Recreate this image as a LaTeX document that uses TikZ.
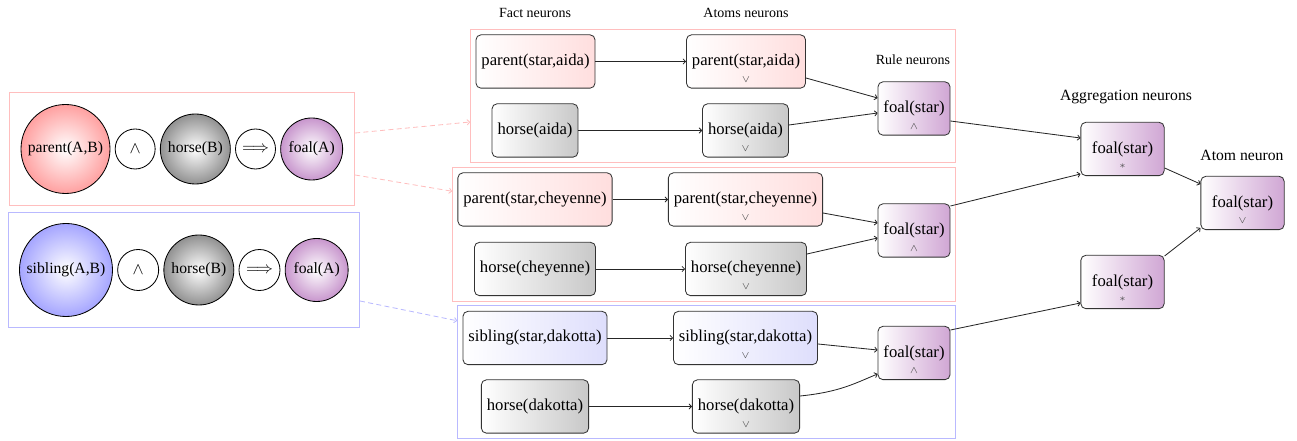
\documentclass[tikz,border=0pt]{standalone}
\usepackage{fontspec}
\setmainfont{Liberation Serif}
\usepackage{xcolor}
\usetikzlibrary{arrows.meta, positioning, calc, fit}
\definecolor{NeuPink}{RGB}{255, 222, 222}
\definecolor{NeuGray}{RGB}{200, 200, 200}
\definecolor{NeuBlue}{RGB}{222, 222, 252}
\definecolor{NeuPurple}{RGB}{208, 166, 212}
\definecolor{NeuPinkBall}{RGB}{255, 160, 160}
\definecolor{NeuGrayBall}{RGB}{145, 145, 145}
\definecolor{NeuBlueBall}{RGB}{165, 165, 255}
\definecolor{NeuPurpleBall}{RGB}{200, 150, 205}
\definecolor{NeuPinkLine}{RGB}{255, 190, 190}
\definecolor{NeuBlueLine}{RGB}{185, 185, 255}

\begin{document}
\begin{tikzpicture}[
    x=0.6pt, y=-0.6pt,
    neuron/.style={rounded corners=3pt, draw=black!80, line width=0.5pt,
      minimum height=32pt, inner xsep=3.3pt,
      font=\fontsize{10}{12}\selectfont, left color=white, right color=#1},
    gate/.style={label={[font=\fontsize{6.2}{7}\selectfont, text=black!70, inner sep=0pt,
      label distance=-7.3pt]below:#1}},
    ball/.style={circle, draw=black, line width=0.5pt, inner sep=0pt,
      font=\fontsize{9.4}{11}\selectfont, inner color=white, outer color=#1},
    group/.style={draw=#1, line width=0.5pt, inner sep=3pt},
    link/.style={-{To[length=2pt, width=3.5pt]}, line width=0.5pt, black!85},
    hint/.style={-{To[length=2pt, width=3.5pt]}, line width=0.5pt,
      dash pattern=on 3pt off 2pt, draw=#1},
    title/.style={font=\fontsize{8.4}{10}\selectfont}
  ]
  \useasboundingbox (0,0) rectangle (1297,441);

  % rules as circles
  \node[ball=NeuPinkBall, minimum size=53.4pt] (pAB) at (65.5,149) {parent(A,B)};
  \node[ball=white, minimum size=24pt, font=\normalsize, right=2.6pt of pAB] (and1) {$\wedge$};
  \node[ball=NeuGrayBall, minimum size=42pt, right=2.6pt of and1] (hB1) {horse(B)};
  \node[ball=white, minimum size=24pt, font=\normalsize, right=2.6pt of hB1] (imp1) {$\Longrightarrow$};
  \node[ball=NeuPurpleBall, minimum size=37.2pt, right=2.6pt of imp1] (fA1) {foal(A)};

  \node[ball=NeuBlueBall, minimum size=55.8pt] (sAB) at (66,270) {sibling(A,B)};
  \node[ball=white, minimum size=24.6pt, font=\normalsize, right=2.6pt of sAB] (and2) {$\wedge$};
  \node[ball=NeuGrayBall, minimum size=42pt, right=2.6pt of and2] (hB2) {horse(B)};
  \node[ball=white, minimum size=24.6pt, font=\normalsize, right=2.6pt of hB2] (imp2) {$\Longrightarrow$};
  \node[ball=NeuPurpleBall, minimum size=37.8pt, right=2.6pt of imp2] (fA2) {foal(A)};

  \node[group=NeuPinkLine, inner sep=7pt, fit=(pAB)(fA1)] (rulePar) {};
  \node[group=NeuBlueLine, inner sep=6.6pt, fit=(sAB)(fA2)] (ruleSib) {};

  % network
  \node[title] at (535,13) {Fact neurons};
  \node[title] at (746,13) {Atoms neurons};
  \node[title] at (913,60) {Rule neurons};
  \node[font=\fontsize{9.4}{11}\selectfont] at (1126,97) {Aggregation neurons};
  \node[font=\fontsize{9.4}{11}\selectfont] at (1242,155) {Atom neuron};

  \node[neuron=NeuPink] (fa1) at (535.5,61.5) {parent(star,aida)};
  \node[neuron=NeuGray] (fh1) at (535,130.5) {horse(aida)};
  \node[neuron=NeuPink, gate=$\vee$] (aa1) at (746,61.5) {parent(star,aida)};
  \node[neuron=NeuGray, gate=$\vee$] (ah1) at (745.5,130.5) {horse(aida)};
  \node[neuron=NeuPurple, gate=$\wedge$] (r1) at (914,108.5) {foal(star)};

  \node[neuron=NeuPink] (fa2) at (535,199.5) {parent(star,cheyenne)};
  \node[neuron=NeuGray] (fh2) at (535,269) {horse(cheyenne)};
  \node[neuron=NeuPink, gate=$\vee$] (aa2) at (745.5,199.5) {parent(star,cheyenne)};
  \node[neuron=NeuGray, gate=$\vee$] (ah2) at (746,269) {horse(cheyenne)};
  \node[neuron=NeuPurple, gate=$\wedge$] (r2) at (914,230.5) {foal(star)};

  \node[neuron=NeuBlue] (fs3) at (535,338) {sibling(star,dakotta)};
  \node[neuron=NeuGray] (fh3) at (535,406.5) {horse(dakotta)};
  \node[neuron=NeuBlue, gate=$\vee$] (as3) at (745.5,338) {sibling(star,dakotta)};
  \node[neuron=NeuGray, gate=$\vee$] (ah3) at (746,406.5) {horse(dakotta)};
  \node[neuron=NeuPurple, gate=$\wedge$] (r3) at (914,353) {foal(star)};

  \node[neuron=NeuPurple, minimum width=50pt, gate=$\ast$] (agg1) at (1122.5,149) {foal(star)};
  \node[neuron=NeuPurple, minimum width=50pt, gate=$\ast$] (agg2) at (1122.5,282) {foal(star)};
  \node[neuron=NeuPurple, minimum width=50pt, gate=$\vee$] (out) at (1242.5,203) {foal(star)};

  \node[group=NeuPinkLine, fit=(fa1)(fh1)(r1)] (grpA) {};
  \node[group=NeuPinkLine, fit=(fa2)(fh2)(r2)] (grpC) {};
  \node[group=NeuBlueLine, fit=(fs3)(fh3)(r3)] (grpD) {};

  % grounding
  \draw[hint=NeuPinkLine] ($(rulePar.east)+(0,-16)$) -- ($(grpA.west)+(0,26)$);
  \draw[hint=NeuPinkLine] ($(rulePar.east)+(0,26)$) -- ($(grpC.west)+(0,-43)$);
  \draw[hint=NeuBlueLine] ($(ruleSib.east)+(0,31)$) -- ($(grpD.west)+(0,-51.5)$);

  % edges
  \draw[link] (fa1) -- (aa1);
  \draw[link] (fh1) -- (ah1);
  \draw[link] (fa2) -- (aa2);
  \draw[link] (fh2) -- (ah2);
  \draw[link] (fs3) -- (as3);
  \draw[link] (fh3) -- (ah3);

  \draw[link] ($(aa1.east)+(0,16.5)$) -- ($(r1.west)+(0,-10.5)$);
  \draw[link] ($(ah1.east)+(0,-5.5)$) -- ($(r1.west)+(0,4.5)$);
  \draw[link] ($(aa2.east)+(0,13.5)$) -- ($(r2.west)+(0,-7.5)$);
  \draw[link] ($(ah2.east)+(0,-15)$) -- ($(r2.west)+(0,7.5)$);
  \draw[link] ($(as3.east)+(0,6)$) -- ($(r3.west)+(0,-3)$);
  \draw[link] ($(ah3.east)+(0,-10.5)$) .. controls +(40,-4) and +(-22,9) .. ($(r3.west)+(0,21)$);

  \draw[link] ($(r1.east)+(0,12.5)$) -- ($(agg1.west)+(0,-11)$);
  \draw[link] ($(r2.east)+(0,-24.5)$) -- ($(agg1.west)+(0,25)$);
  \draw[link] ($(r3.east)+(0,-23)$) -- ($(agg2.west)+(0,21)$);
  \draw[link] ($(agg1.east)+(0,19)$) -- ($(out.west)+(0,-19)$);
  \draw[link] ($(agg2.east)+(0,-26)$) -- ($(out.west)+(0,25)$);
\end{tikzpicture}
\end{document}
